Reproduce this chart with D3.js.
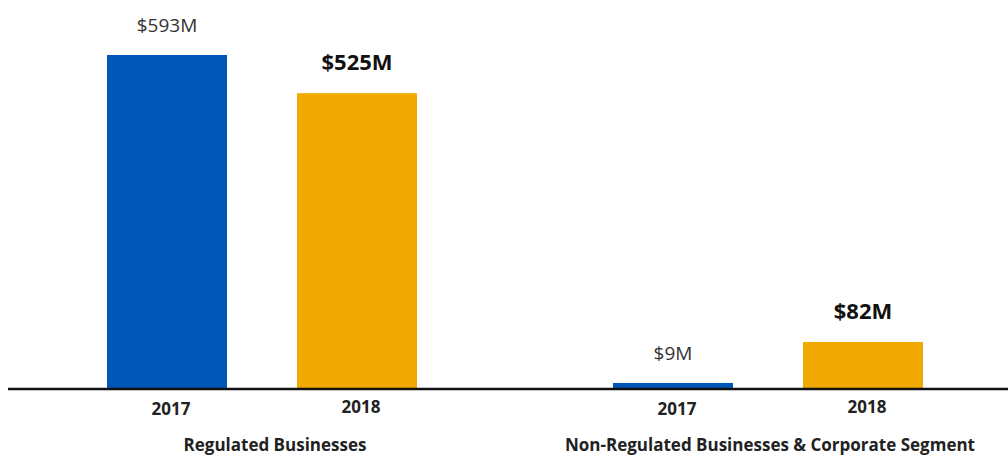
<!DOCTYPE html>
<html>
<head>
<meta charset="utf-8">
<script src="https://cdn.jsdelivr.net/npm/d3@7"></script>
<style>
  html, body { margin: 0; padding: 0; background: #fff; }
  svg { display: block; font-family: "Open Sans", "Noto Sans", sans-serif; }
</style>
</head>
<body>
<svg id="chart" width="1008" height="456"></svg>
<script>
// Segment groups, years and values ($ millions)
const groups = ["Regulated Businesses", "Non-Regulated Businesses & Corporate Segment"];
const years = ["2017", "2018"];
const values2017 = [593, 9];
const values2018 = [525, 82];
const valueLabels2017 = ["$593M", "$9M"];
const valueLabels2018 = ["$525M", "$82M"];

const colors = { "2017": "#0057b8", "2018": "#f0a900" };

const rows = [];
groups.forEach((g, i) => {
  rows.push({ group: g, year: "2017", value: values2017[i], label: valueLabels2017[i] });
  rows.push({ group: g, year: "2018", value: values2018[i], label: valueLabels2018[i] });
});

const svg = d3.select("#chart");
const baseY = 388;

const x0 = d3.scaleBand().domain(groups).range([9, 1021]).paddingInner(0).paddingOuter(0);
const x1 = d3.scaleBand().domain(years).range([-155, 155]).paddingInner(70 / 190).paddingOuter(0);
const y = d3.scaleLinear().domain([0, 593]).range([baseY, 55]);

const cx = g => x0(g) + x0.bandwidth() / 2;
const barMid = d => cx(d.group) + x1(d.year) + x1.bandwidth() / 2;

// bars
svg.append("g").selectAll("rect").data(rows).join("rect")
  .attr("x", d => cx(d.group) + x1(d.year))
  .attr("y", d => y(d.value))
  .attr("width", x1.bandwidth())
  .attr("height", d => y(0) - y(d.value))
  .attr("fill", d => colors[d.year]);

// value labels: 2017 regular, 2018 bold
svg.append("g").selectAll("text").data(rows).join("text")
  .attr("x", d => barMid(d))
  .attr("y", d => y(d.value) - 23)
  .attr("text-anchor", "middle")
  .attr("font-size", d => d.year === "2017" ? 19 : 22)
  .attr("font-weight", d => d.year === "2017" ? 400 : 700)
  .attr("fill", d => d.year === "2017" ? "#333" : "#111")
  .text(d => d.label);

// baseline
svg.append("line")
  .attr("x1", 8).attr("x2", 1008)
  .attr("y1", baseY + 1).attr("y2", baseY + 1)
  .attr("stroke", "#111").attr("stroke-width", 2.5);

// year labels
svg.append("g").selectAll("text").data(rows).join("text")
  .attr("x", d => barMid(d) + 4)
  .attr("y", d => d.year === "2017" ? 415 : 413)
  .attr("text-anchor", "middle")
  .attr("font-size", 17)
  .attr("font-weight", 700)
  .attr("fill", "#222")
  .text(d => d.year);

// group labels
svg.append("g").selectAll("text").data(groups).join("text")
  .attr("x", (g, i) => cx(g) + (i === 0 ? 13 : 2))
  .attr("y", 451)
  .attr("text-anchor", "middle")
  .attr("font-size", 17)
  .attr("font-weight", 700)
  .attr("fill", "#222")
  .text(g => g);
</script>
</body>
</html>
